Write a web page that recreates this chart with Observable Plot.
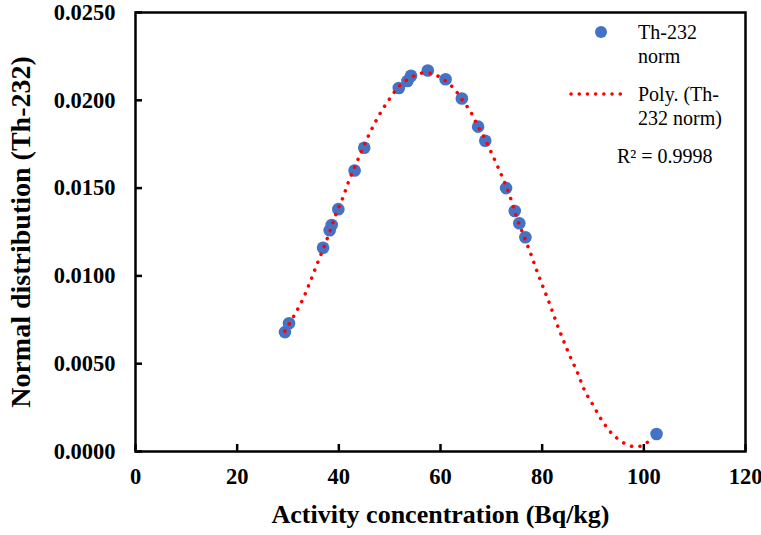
<!DOCTYPE html>
<html>
<head>
<meta charset="utf-8">
<script src="https://cdn.jsdelivr.net/npm/d3@7"></script>
<script src="https://cdn.jsdelivr.net/npm/@observablehq/plot@0.6"></script>
<style>
  html, body { margin: 0; padding: 0; background: #fff; }
  #wrap { position: relative; width: 761px; height: 535px; }
  #legend { position: absolute; left: 0; top: 0; pointer-events: none; }
</style>
</head>
<body>
<div id="wrap"></div>
<script>
// Measured data points (Th-232 norm)
const activity = [29.4, 30.2, 36.9, 38.2, 38.6, 39.9, 43.1, 45.0, 51.8, 53.5, 54.2, 57.5, 61.0, 64.2, 67.4, 68.8, 72.9, 74.6, 75.5, 76.7, 102.5];
const normDist = [0.0068, 0.0073, 0.0116, 0.0126, 0.0129, 0.0138, 0.0160, 0.0173, 0.0207, 0.0211, 0.0214, 0.0217, 0.0212, 0.0201, 0.0185, 0.0177, 0.0150, 0.0137, 0.0130, 0.0122, 0.0010];

// Polynomial trend line
const fitX = [29.4, 31.2, 32.9, 34.3, 35.6, 36.9, 38.2, 39.4, 40.8, 42.0, 43.4, 44.8, 46.3, 48.0, 49.9, 52.0, 53.5, 55.1, 56.8, 58.6, 60.2, 61.7, 62.9, 63.9, 65.0, 66.0, 66.8, 67.6, 68.5, 70.2, 71.9, 73.4, 75.2, 76.5, 77.8, 79.0, 80.3, 81.6, 82.8, 84.1, 85.5, 87.0, 88.3, 90.1, 91.9, 94.1, 97.1, 99.0, 100.4, 101.9];
const fitY = [0.00685, 0.00774, 0.00866, 0.00962, 0.01058, 0.01152, 0.01251, 0.01350, 0.01446, 0.01543, 0.01638, 0.01733, 0.01826, 0.01919, 0.02005, 0.02084, 0.02118, 0.02143, 0.02157, 0.02149, 0.02126, 0.02094, 0.02058, 0.02018, 0.01974, 0.01931, 0.01885, 0.01841, 0.01794, 0.01690, 0.01580, 0.01475, 0.01315, 0.01220, 0.01122, 0.01025, 0.00928, 0.00831, 0.00735, 0.00638, 0.00541, 0.00446, 0.00351, 0.00260, 0.00171, 0.00091, 0.00034, 0.00028, 0.00047, 0.00078];

const xTicks = [0, 20, 40, 60, 80, 100, 120];
const yTicks = [0.0000, 0.0050, 0.0100, 0.0150, 0.0200, 0.0250];
const xTitle = "Activity concentration (Bq/kg)";
const yTitle = "Normal distribution (Th-232)";
const seriesName = ["Th-232", "norm"];
const fitName = ["Poly. (Th-", "232 norm)"];
const r2Text = "R² = 0.9998";

const points = activity.map((x, i) => ({x, y: normDist[i]}));
const fit = fitX.map((x, i) => ({x, y: fitY[i]}));

const blue = "#4472C4";
const red = "#FF0000";
const serif = "'Liberation Serif', 'Times New Roman', serif";

const chart = Plot.plot({
  width: 761,
  height: 535,
  marginLeft: 135,
  marginRight: 16,
  marginTop: 12,
  marginBottom: 84,
  style: {fontFamily: serif, background: "white", color: "black"},
  x: {domain: [0, 120]},
  y: {domain: [0, 0.025]},
  marks: [
    Plot.axisX({ticks: xTicks, tickSize: -7, tickPadding: 24, tickFormat: d => String(d), fontSize: 22.5, fontWeight: "bold", strokeWidth: 2.5, label: null}),
    Plot.axisY({ticks: yTicks, tickSize: -7, tickPadding: 27, tickFormat: d3.format(".4f"), fontSize: 22.5, fontWeight: "bold", strokeWidth: 2.5, label: null}),
    Plot.frame({stroke: "black", strokeWidth: 2.5}),
    Plot.dot(points, {x: "x", y: "y", r: 6.3, fill: blue, stroke: null}),
    Plot.line(fit, {x: "x", y: "y", stroke: red, strokeWidth: 3.5, strokeDasharray: "0.1 8.4", strokeLinecap: "round", curve: "catmull-rom"}),
    Plot.text([xTitle], {text: d => d, frameAnchor: "bottom", dy: 71, textAnchor: "middle", fontSize: 26, fontWeight: "bold"}),
    Plot.text([yTitle], {text: d => d, frameAnchor: "left", dx: -114, textAnchor: "middle", rotate: -90, fontSize: 28, fontWeight: "bold"})
  ]
});

const wrap = document.getElementById("wrap");
wrap.appendChild(chart);

// Legend overlay
const leg = d3.select(wrap).append("svg")
  .attr("id", "legend").attr("width", 761).attr("height", 535)
  .style("font-family", serif).style("font-size", "20px");
leg.append("circle").attr("cx", 601).attr("cy", 32).attr("r", 6).attr("fill", blue);
leg.append("text").attr("x", 638).attr("y", 39).text(seriesName[0]);
leg.append("text").attr("x", 638).attr("y", 63).text(seriesName[1]);
leg.append("line").attr("x1", 571).attr("x2", 628).attr("y1", 94).attr("y2", 94)
  .attr("stroke", red).attr("stroke-width", 3.5).attr("stroke-dasharray", "0.1 8.1").attr("stroke-linecap", "round");
leg.append("text").attr("x", 638).attr("y", 101).text(fitName[0]);
leg.append("text").attr("x", 638).attr("y", 125).text(fitName[1]);
leg.append("text").attr("x", 617).attr("y", 163).text(r2Text);
</script>
</body>
</html>
